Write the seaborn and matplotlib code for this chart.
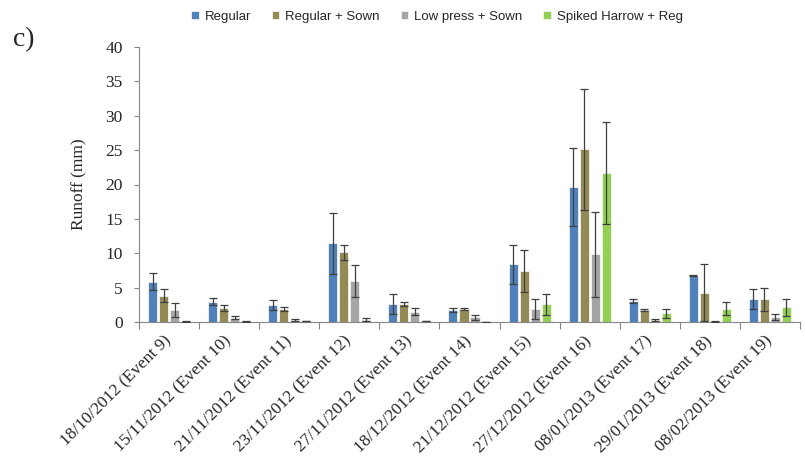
import numpy as np
import pandas as pd
import matplotlib
matplotlib.use("Agg")
import matplotlib.pyplot as plt
import seaborn as sns

# Runoff per event and treatment (mm), with standard errors
events = [
    "18/10/2012 (Event 9)", "15/11/2012 (Event 10)", "21/11/2012 (Event 11)",
    "23/11/2012 (Event 12)", "27/11/2012 (Event 13)", "18/12/2012 (Event 14)",
    "21/12/2012 (Event 15)", "27/12/2012 (Event 16)", "08/01/2013 (Event 17)",
    "29/01/2013 (Event 18)", "08/02/2013 (Event 19)",
]
treatments = ["Regular", "Regular + Sown", "Low press + Sown", "Spiked Harrow + Reg"]

regular = [5.85, 2.95, 2.45, 11.45, 2.65, 1.75, 8.4, 19.6, 3.0, 6.75, 3.3]
regular_err = [1.25, 0.5, 0.7, 4.45, 1.45, 0.35, 2.85, 5.7, 0.3, 0.05, 1.45]
regular_sown = [3.85, 2.05, 1.9, 10.15, 2.6, 1.9, 7.4, 25.1, 1.75, 4.25, 3.3]
regular_sown_err = [1.0, 0.4, 0.35, 1.1, 0.3, 0.2, 3.05, 8.8, 0.2, 4.15, 1.7]
low_press_sown = [1.75, 0.65, 0.35, 6.0, 1.5, 0.7, 1.9, 9.85, 0.3, 0.05, 0.7]
low_press_sown_err = [0.95, 0.2, 0.15, 2.3, 0.55, 0.35, 1.5, 6.15, 0.2, 0.03, 0.45]
spiked_harrow = [0.05, 0.05, 0.1, 0.35, 0.15, 0.05, 2.55, 21.7, 1.25, 1.95, 2.15]
spiked_harrow_err = [0.03, 0.03, 0.0, 0.25, 0.0, 0.0, 1.5, 7.4, 0.65, 0.95, 1.25]

y_ticks = [0, 5, 10, 15, 20, 25, 30, 35, 40]
colors = ["#4F81BD", "#948A54", "#A5A5A5", "#92D050"]

values = [regular, regular_sown, low_press_sown, spiked_harrow]
errors = [regular_err, regular_sown_err, low_press_sown_err, spiked_harrow_err]

df = pd.DataFrame({
    "event": np.tile(events, len(treatments)),
    "treatment": np.repeat(treatments, len(events)),
    "runoff": np.concatenate(values),
})

sns.set_style("white")
plt.rcParams["font.family"] = ["Liberation Serif", "DejaVu Serif"]

fig = plt.figure(figsize=(8.05, 4.62), dpi=100)
ax = fig.add_axes([139 / 805, 1 - 322 / 462, 661 / 805, 275 / 462])

sns.barplot(
    data=df, x="event", y="runoff", hue="treatment",
    order=events, hue_order=treatments, palette=colors,
    width=0.733, gap=0.18, errorbar=None, saturation=1,
    edgecolor="#f4f4f4", linewidth=0.6, legend=True, ax=ax,
)

# error bars centred on each drawn bar
for container, err in zip(ax.containers, errors):
    xs = [p.get_x() + p.get_width() / 2 for p in container.patches]
    ys = [p.get_height() for p in container.patches]
    ax.errorbar(xs, ys, yerr=err, fmt="none", ecolor="#3f3f3f",
                elinewidth=0.9, capsize=3.2, capthick=0.9, zorder=5)

ax.set_xlim(-0.5, len(events) - 0.5)
ax.set_ylim(0, 40)
ax.set_yticks(y_ticks)
ax.set_yticklabels([str(t) for t in y_ticks], fontsize=12.5)
ax.set_ylabel("Runoff (mm)", fontsize=12.5, labelpad=13)
ax.set_xlabel("")

# category labels at centres, tick marks at boundaries
ax.set_xticks(range(len(events)))
ax.set_xticklabels(events, rotation=45, ha="right", va="center",
                   rotation_mode="anchor", fontsize=12.5)
ax.tick_params(axis="x", which="major", length=0, pad=12)
ax.set_xticks(np.arange(-0.5, len(events), 1), minor=True)
ax.tick_params(axis="x", which="minor", length=5, width=0.8,
               color="#868686", direction="out", bottom=True)
ax.tick_params(axis="y", length=3.6, width=0.8, color="#868686",
               direction="out", left=True, pad=8)

for side in ["top", "right"]:
    ax.spines[side].set_visible(False)
ax.spines["left"].set_color("#868686")
ax.spines["bottom"].set_color("#868686")
ax.spines["left"].set_linewidth(0.8)
ax.spines["bottom"].set_linewidth(0.8)

handles, labels = ax.get_legend_handles_labels()
ax.get_legend().remove()
fig.legend(handles, labels, loc="center", bbox_to_anchor=(437 / 805, 1 - 17 / 462),
           ncol=4, frameon=False, handlelength=0.55, handleheight=0.55,
           handletextpad=0.45, columnspacing=1.6,
           prop={"family": "Liberation Sans", "size": 9.5})

fig.text(13 / 805, 1 - 40 / 462, "c)", fontsize=20, va="center", ha="left")

fig.savefig("out.png", dpi=100)
